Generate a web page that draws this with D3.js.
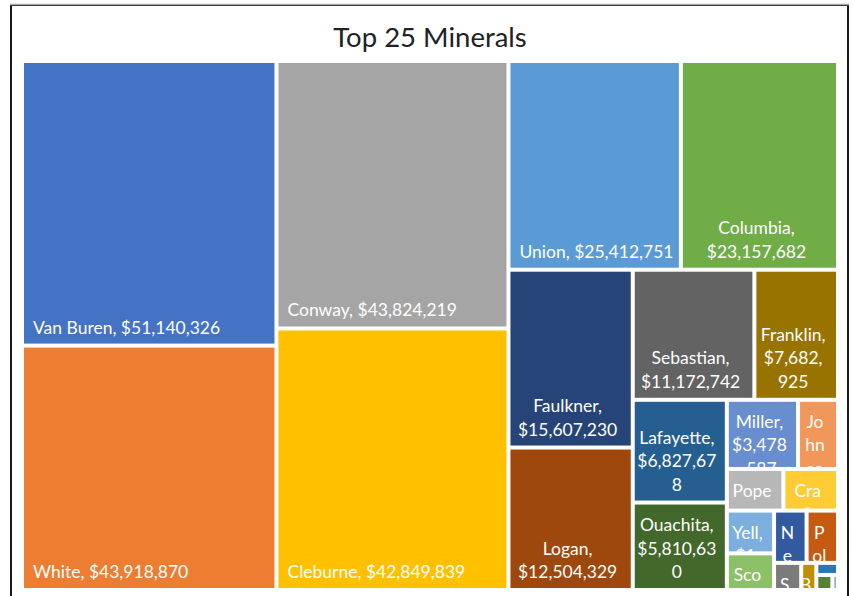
<!DOCTYPE html>
<html>
<head>
<meta charset="utf-8">
<script src="https://cdn.jsdelivr.net/npm/d3@7"></script>
<style>
  body { margin: 0; background: #fff; }
  svg { display: block; font-family: Lato, "Open Sans", sans-serif; }
</style>
</head>
<body>
<svg id="chart"></svg>
<script>
var width = 853;
var height = 596;

// data (county, value), sorted like the source
var counties = ["Van Buren", "White", "Conway", "Cleburne", "Union", "Columbia",
  "Faulkner", "Logan", "Sebastian", "Franklin", "Lafayette", "Ouachita",
  "Miller", "Johnson", "Pope", "Crawford", "Yell", "Scott", "Nevada",
  "Polk", "Sevier", "Boone", "Saline", "Pulaski", "Lee"];
var values = [51140326, 43918870, 43824219, 42849839, 25412751, 23157682,
  15607230, 12504329, 11172742, 7682925, 6827678, 5810630,
  3478587, 1952000, 1662000, 1605000, 1425700, 1222000, 1201000,
  1160000, 520000, 290000, 185000, 170000, 60000];
var colors = ["#4472C4", "#ED7D31", "#A5A5A5", "#FFC000", "#5B9BD5", "#70AD47",
  "#264478", "#9E480E", "#636363", "#997300", "#255E91", "#43682B",
  "#698ED0", "#F1975A", "#B7B7B7", "#FFCD33", "#7CAFDD", "#8CC168",
  "#335AA1", "#C55A11", "#7B7B7B", "#BF8F00", "#2E75B6", "#548235", "#8FAADC"];

var plot = {left: 24, top: 63, w: 812, h: 525};
var fontSize = 17.5;
var lineH = 23.5;

var svg = d3.select("#chart")
    .attr("width", width)
    .attr("height", height);

// chart frame
svg.append("rect")
    .attr("x", 11).attr("y", 5)
    .attr("width", 837).attr("height", 700)
    .attr("fill", "none")
    .attr("stroke", "#1a1a1a")
    .attr("stroke-width", 2);
svg.append("line")
    .attr("x1", 10).attr("x2", 849)
    .attr("y1", 4.5).attr("y2", 4.5)
    .attr("stroke", "#a6a6a6")
    .attr("stroke-width", 1.5);

svg.append("text")
    .attr("x", 430)
    .attr("y", 47)
    .attr("text-anchor", "middle")
    .attr("font-size", 27.5)
    .attr("fill", "#222")
    .text("Top 25 Minerals");

var rows = counties.map((c, i) => ({name: c, value: values[i], color: colors[i]}));

var root = d3.hierarchy({children: rows})
    .sum(d => d.value || 0)
    .sort((a, b) => b.value - a.value);

d3.treemap()
    .tile(d3.treemapSquarify.ratio(1))
    .size([plot.w, plot.h])
    .paddingInner(4)
    .round(false)(root);

var fmt = d3.format("$,");

// measuring helper for label wrapping
var probe = svg.append("text").attr("font-size", fontSize).attr("visibility", "hidden");
function textW(s) {
    probe.text(s);
    return probe.node().getComputedTextLength();
}

function wrap(str, maxW) {
    var words = str.split(" ");
    var lines = [];
    var cur = "";
    words.forEach(w => {
        var tryLine = cur ? cur + " " + w : w;
        if (textW(tryLine) <= maxW) { cur = tryLine; return; }
        if (cur) lines.push(cur);
        cur = "";
        // word too long: break it by characters
        var piece = "";
        for (var ch of w) {
            if (piece && textW(piece + ch) > maxW) {
                lines.push(piece);
                piece = ch;
            } else piece += ch;
        }
        cur = piece;
    });
    if (cur) lines.push(cur);
    return lines;
}

var g = svg.append("g").attr("transform", `translate(${plot.left},${plot.top})`);

var cell = g.selectAll("g.cell")
    .data(root.leaves())
    .enter()
    .append("g")
    .attr("class", "cell");

cell.append("rect")
    .attr("x", d => d.x0)
    .attr("y", d => d.y0)
    .attr("width", d => Math.max(0, d.x1 - d.x0))
    .attr("height", d => Math.max(0, d.y1 - d.y0))
    .attr("fill", d => d.data.color);

cell.each(function(d) {
    var label = d.data.name + ", " + fmt(d.data.value);
    var cw = d.x1 - d.x0, ch = d.y1 - d.y0;
    var single = textW(label) <= cw - 14;
    var lines = single ? [label] : wrap(label, Math.max(cw - 11, 14));
    var blockH = lines.length * lineH;
    var firstBase;
    if (blockH + 8 <= ch) firstBase = d.y1 - 10 - (lines.length - 1) * lineH;
    else firstBase = d.y0 + 26;
    var t = d3.select(this).append("text")
        .attr("font-size", fontSize)
        .attr("fill", "#fff")
        .attr("text-anchor", single ? "start" : "middle");
    lines.forEach((ln, i) => {
        t.append("tspan")
            .attr("x", single ? d.x0 + 9 : (d.x0 + d.x1) / 2 - 3)
            .attr("y", firstBase + i * lineH)
            .text(ln);
    });
});

probe.remove();
</script>
</body>
</html>
